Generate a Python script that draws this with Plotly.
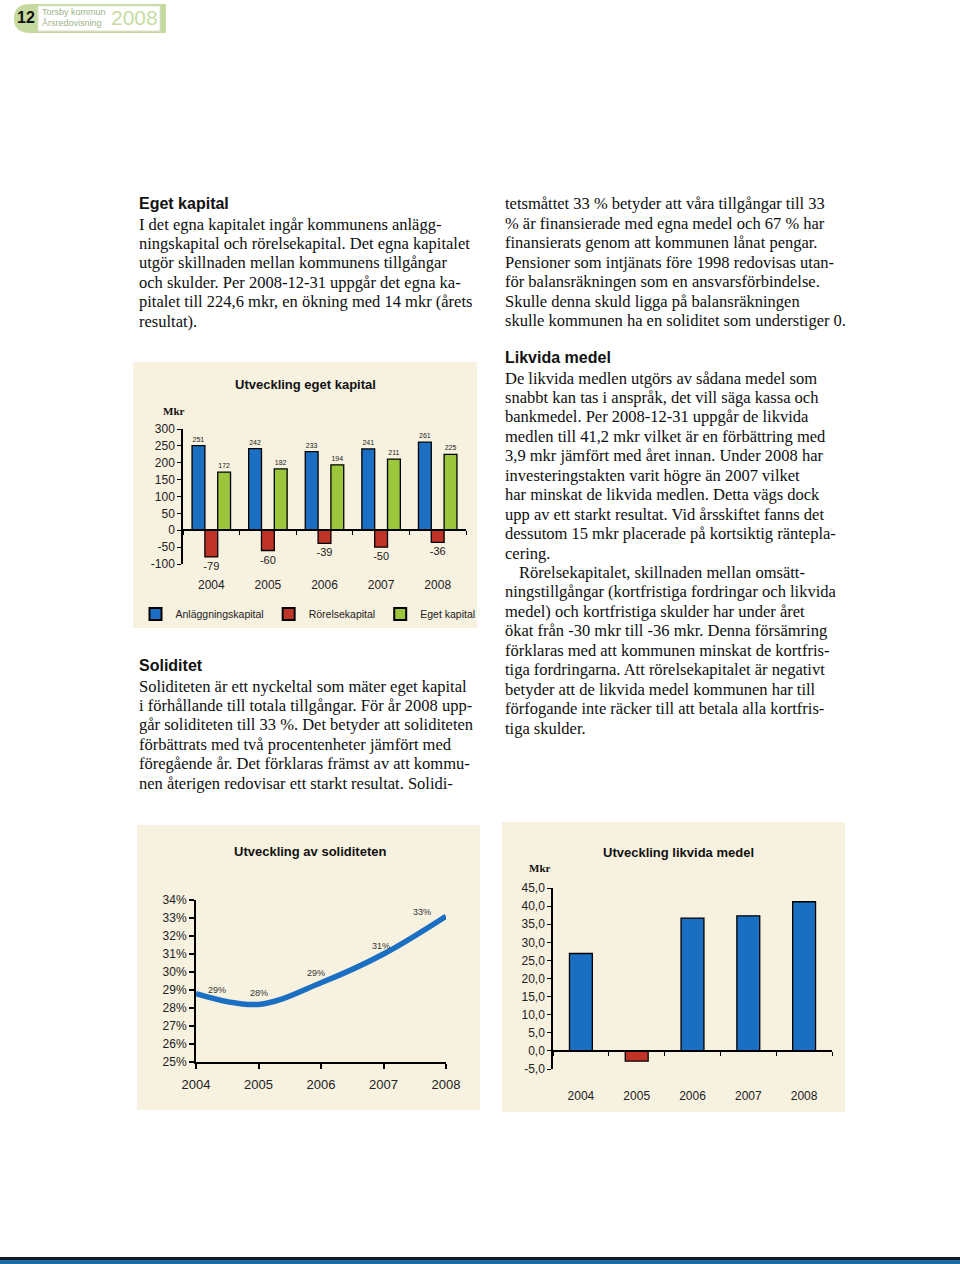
import plotly.graph_objects as go

W, H = 960, 1264

def px(x):
    return x / W

def py(y):
    return 1 - y / H

# ---------------- data ----------------
years = ["2004", "2005", "2006", "2007", "2008"]
anlaggning = [251, 242, 233, 241, 261]
rorelse = [-79, -60, -39, -50, -36]
eget = [172, 182, 194, 211, 225]

sol_years = [2004, 2005, 2006, 2007, 2008]
soliditet = [28.8, 28.2, 29.4, 31.0, 33.1]
sol_label_shift = [(21, 4), (0, 11), (-5, 10), (-3, 8), (-24, 4)]

likvida = [26.9, -2.8, 36.7, 37.3, 41.2]

ek_ticks = [-100, -50, 0, 50, 100, 150, 200, 250, 300]
sol_ticks = [25, 26, 27, 28, 29, 30, 31, 32, 33, 34]
lm_ticks = [-5, 0, 5, 10, 15, 20, 25, 30, 35, 40, 45]

BLUE = "#1b6fc2"
RED = "#bf3427"
GREEN = "#9cc63c"
PANEL = "#f7f1e0"
SANS = "Liberation Sans, Arial, sans-serif"
SERIF = "Liberation Serif, Times New Roman, serif"

fig = go.Figure()

# ---------------- chart 1: Utveckling eget kapital ----------------
for name, vals, col, fs in [("Anläggningskapital", anlaggning, BLUE, 7),
                            ("Rörelsekapital", rorelse, RED, 11),
                            ("Eget kapital", eget, GREEN, 7)]:
    fig.add_trace(go.Bar(
        x=years, y=vals, name=name, xaxis="x", yaxis="y",
        marker=dict(color=col, line=dict(color="black", width=1.3)),
        text=[str(v) for v in vals], textposition="outside", constraintext="none",
        textfont=dict(family=SANS, size=fs, color="#222"),
        cliponaxis=False,
    ))
fig.add_trace(go.Scatter(x=years, y=[None] * 5, xaxis="x2", yaxis="y",
                         showlegend=False, hoverinfo="skip"))

# ---------------- chart 2: Utveckling av soliditeten ----------------
fig.add_trace(go.Scatter(
    x=sol_years, y=soliditet, xaxis="x3", yaxis="y2", mode="lines",
    line=dict(color=BLUE, width=5.5, shape="spline", smoothing=1.0),
    showlegend=False, cliponaxis=False,
))

# ---------------- chart 3: Utveckling likvida medel ----------------
fig.add_trace(go.Bar(
    x=years, y=likvida, xaxis="x4", yaxis="y3",
    marker=dict(color=[BLUE if v >= 0 else RED for v in likvida],
                line=dict(color="black", width=1.3)),
    width=0.41, showlegend=False,
))
fig.add_trace(go.Scatter(x=years, y=[None] * 5, xaxis="x5", yaxis="y3",
                         showlegend=False, hoverinfo="skip"))

annotations = []
for yr, v in zip(years, likvida):
    annotations.append(dict(
        x=yr, y=v, xref="x4", yref="y3", text=f"{v:.1f}".replace(".", ","),
        showarrow=False, yshift=16 if v >= 0 else -16,
        font=dict(family=SANS, size=8, color="#222"),
    ))
for yr, v, (dx, dy) in zip(sol_years, soliditet, sol_label_shift):
    annotations.append(dict(
        x=yr, y=v, xref="x3", yref="y2", text=f"{round(v):d}%",
        showarrow=False, xshift=dx, yshift=dy,
        font=dict(family=SANS, size=9, color="#333"),
    ))

# ---------------- axes ----------------
def ydom(top, bottom):
    return [py(bottom), py(top)]

ek_dom = ydom(429, 564)
ek_zero = ek_dom[0] + (0 - (-100)) / 400 * (ek_dom[1] - ek_dom[0])
lm_dom = ydom(888, 1069)
lm_zero = lm_dom[0] + (0 - (-5)) / 50 * (lm_dom[1] - lm_dom[0])

tickfont = dict(family=SANS, size=12, color="#222")

fig.update_layout(
    xaxis=dict(domain=[px(183), px(466)], anchor="y", type="category",
               range=[-0.5, 4.5], showline=False, ticks="", showgrid=False,
               tickfont=tickfont, ticklabelstandoff=12, automargin=False),
    xaxis2=dict(overlaying="x", anchor="free", position=ek_zero, type="category",
                range=[-0.5, 4.5], showline=True, linecolor="black", linewidth=1.5,
                ticks="outside", tickson="boundaries", ticklen=4, tickcolor="black",
                showticklabels=False, showgrid=False, automargin=False),
    yaxis=dict(domain=ek_dom, anchor="x", range=[-100, 300], tickvals=ek_ticks,
               ticktext=[str(v) for v in ek_ticks],
               showline=True, linecolor="black", linewidth=1.5, ticks="outside",
               ticklen=4, tickcolor="black", showgrid=False, zeroline=False,
               tickfont=tickfont, automargin=False),
    xaxis3=dict(domain=[px(196), px(446)], anchor="y2", range=[2004, 2008],
                tickvals=sol_years, showline=True, linecolor="black", linewidth=2,
                ticks="outside", ticklen=5, tickwidth=2, tickcolor="black",
                showgrid=False, zeroline=False,
                tickfont=dict(family=SANS, size=13, color="#222"),
                ticklabelstandoff=4, automargin=False),
    yaxis2=dict(domain=ydom(900, 1062), anchor="x3", range=[25, 34], tickvals=sol_ticks,
                ticktext=[f"{v}%" for v in sol_ticks],
                showline=True, linecolor="black", linewidth=2,
                ticks="outside", ticklen=5, tickwidth=2, tickcolor="black",
                showgrid=False, zeroline=False, tickfont=tickfont, automargin=False),
    xaxis4=dict(domain=[px(553), px(832)], anchor="y3", type="category",
                range=[-0.5, 4.5], showline=False, ticks="", showgrid=False,
                tickfont=tickfont, ticklabelstandoff=18, automargin=False),
    xaxis5=dict(overlaying="x4", anchor="free", position=lm_zero, type="category",
                range=[-0.5, 4.5], showline=True, linecolor="black", linewidth=1.5,
                ticks="outside", tickson="boundaries", ticklen=4, tickcolor="black",
                showticklabels=False, showgrid=False, automargin=False),
    yaxis3=dict(domain=lm_dom, anchor="x4", range=[-5, 45], tickvals=lm_ticks,
                ticktext=[f"{v:.1f}".replace(".", ",") for v in lm_ticks],
                showline=True, linecolor="black", linewidth=1.5, ticks="outside",
                ticklen=4, tickcolor="black", showgrid=False, zeroline=False,
                tickfont=tickfont, automargin=False),
)

# ---------------- shapes (panels, header, footer) ----------------
shapes = [
    dict(type="rect", xref="paper", yref="paper", x0=px(133), x1=px(477), y0=py(628), y1=py(362),
         fillcolor=PANEL, line=dict(width=0), layer="below"),
    dict(type="rect", xref="paper", yref="paper", x0=px(137), x1=px(480), y0=py(1110), y1=py(825),
         fillcolor=PANEL, line=dict(width=0), layer="below"),
    dict(type="rect", xref="paper", yref="paper", x0=px(502), x1=px(845), y0=py(1112), y1=py(822),
         fillcolor=PANEL, line=dict(width=0), layer="below"),
    # header pill
    dict(type="path", xref="paper", yref="paper", layer="below",
         path=f"M {px(30)},{py(4)} L {px(166)},{py(4)} L {px(166)},{py(33)} L {px(30)},{py(33)} "
              f"Q {px(14)},{py(33)} {px(14)},{py(18.5)} Q {px(14)},{py(4)} {px(30)},{py(4)} Z",
         fillcolor="#c6d99e", line=dict(width=0)),
    dict(type="rect", xref="paper", yref="paper", x0=px(38), x1=px(160), y0=py(31), y1=py(6),
         fillcolor="white", line=dict(color="#dfe3d2", width=1), layer="below"),
    # footer
    dict(type="rect", xref="paper", yref="paper", x0=0, x1=1, y0=py(1260), y1=py(1257),
         fillcolor="#111a24", line=dict(width=0)),
    dict(type="rect", xref="paper", yref="paper", x0=0, x1=1, y0=0, y1=py(1260),
         fillcolor="#1e69a8", line=dict(width=0)),
]

def ann(x, y, text, size=16.5, family=SERIF, color="#0e0e0e", xanchor="left", bold=False):
    if bold:
        text = f"<b>{text}</b>"
    annotations.append(dict(x=px(x), y=py(y), xref="paper", yref="paper", text=text,
                            showarrow=False, xanchor=xanchor, yanchor="middle",
                            font=dict(family=family, size=size, color=color)))

# header texts
ann(26, 18, "12", size=16, family=SANS, color="#111", xanchor="center", bold=True)
ann(40, 12, "Torsby kommun", size=9, family=SANS, color="#9db388")
ann(40, 23, "Årsredovisning", size=9, family=SANS, color="#9db388")
ann(109, 18, "2008", size=21, family=SANS, color="#c7dca2")

# chart titles and units
ann(305, 385, "Utveckling eget kapital", size=13, family=SANS, color="#111", xanchor="center", bold=True)
ann(174, 411, "Mkr", size=11, family=SERIF, color="#111", xanchor="center", bold=True)
ann(310, 851, "Utveckling av soliditeten", size=13, family=SANS, color="#111", xanchor="center", bold=True)
ann(678, 852, "Utveckling likvida medel", size=13, family=SANS, color="#111", xanchor="center", bold=True)
ann(540, 868, "Mkr", size=11, family=SERIF, color="#111", xanchor="center", bold=True)

# body text
left_top = [
    "I det egna kapitalet ingår kommunens anlägg-",
    "ningskapital och rörelsekapital. Det egna kapitalet",
    "utgör skillnaden mellan kommunens tillgångar",
    "och skulder. Per 2008-12-31 uppgår det egna ka-",
    "pitalet till 224,6 mkr, en ökning med 14 mkr (årets",
    "resultat).",
]
right_top = [
    "tetsmåttet 33 % betyder att våra tillgångar till 33",
    "% är finansierade med egna medel och 67 % har",
    "finansierats genom att kommunen lånat pengar.",
    "Pensioner som intjänats före 1998 redovisas utan-",
    "för balansräkningen som en ansvarsförbindelse.",
    "Skulle denna skuld ligga på balansräkningen",
    "skulle kommunen ha en soliditet som understiger 0.",
]
soliditet_txt = [
    "Soliditeten är ett nyckeltal som mäter eget kapital",
    "i förhållande till totala tillgångar. För år 2008 upp-",
    "går soliditeten till 33 %. Det betyder att soliditeten",
    "förbättrats med två procentenheter jämfört med",
    "föregående år. Det förklaras främst av att kommu-",
    "nen återigen redovisar ett starkt resultat. Solidi-",
]
likvida_txt = [
    "De likvida medlen utgörs av sådana medel som",
    "snabbt kan tas i anspråk, det vill säga kassa och",
    "bankmedel. Per 2008-12-31 uppgår de likvida",
    "medlen till 41,2 mkr vilket är en förbättring med",
    "3,9 mkr jämfört med året innan. Under 2008 har",
    "investeringstakten varit högre än 2007 vilket",
    "har minskat de likvida medlen. Detta vägs dock",
    "upp av ett starkt resultat. Vid årsskiftet fanns det",
    "dessutom 15 mkr placerade på kortsiktig räntepla-",
    "cering.",
    "Rörelsekapitalet, skillnaden mellan omsätt-",
    "ningstillgångar (kortfristiga fordringar och likvida",
    "medel) och kortfristiga skulder har under året",
    "ökat från -30 mkr till -36 mkr. Denna försämring",
    "förklaras med att kommunen minskat de kortfris-",
    "tiga fordringarna. Att rörelsekapitalet är negativt",
    "betyder att de likvida medel kommunen har till",
    "förfogande inte räcker till att betala alla kortfris-",
    "tiga skulder.",
]

LH = 19.45
ann(137, 204, "Eget kapital", size=16, family=SANS, color="#111", bold=True)
for i, t in enumerate(left_top):
    ann(137, 224 + i * LH, t)
for i, t in enumerate(right_top):
    ann(503, 204 + i * LH, t)
ann(137, 665, "Soliditet", size=16, family=SANS, color="#111", bold=True)
for i, t in enumerate(soliditet_txt):
    ann(137, 686 + i * LH, t)
ann(503, 358, "Likvida medel", size=16, family=SANS, color="#111", bold=True)
for i, t in enumerate(likvida_txt):
    ann(517 if i == 10 else 503, 378 + i * LH, t)

fig.update_layout(
    width=W, height=H, margin=dict(l=0, r=0, t=0, b=0, pad=0, autoexpand=False),
    paper_bgcolor="white", plot_bgcolor="rgba(0,0,0,0)",
    barmode="group", bargap=0.32, bargroupgap=0,
    showlegend=True,
    legend=dict(orientation="h", x=px(308), xanchor="center", y=py(614), yanchor="middle",
                bgcolor="rgba(0,0,0,0)", font=dict(family=SANS, size=10.5, color="#222"),
                itemwidth=30, tracegroupgap=0, itemsizing="constant"),
    shapes=shapes, annotations=annotations,
    font=dict(family=SANS),
)

fig.write_html(
    "out.html",
    config={"displayModeBar": False},
    post_script="document.body.style.margin='0';document.body.style.padding='0';",
)
